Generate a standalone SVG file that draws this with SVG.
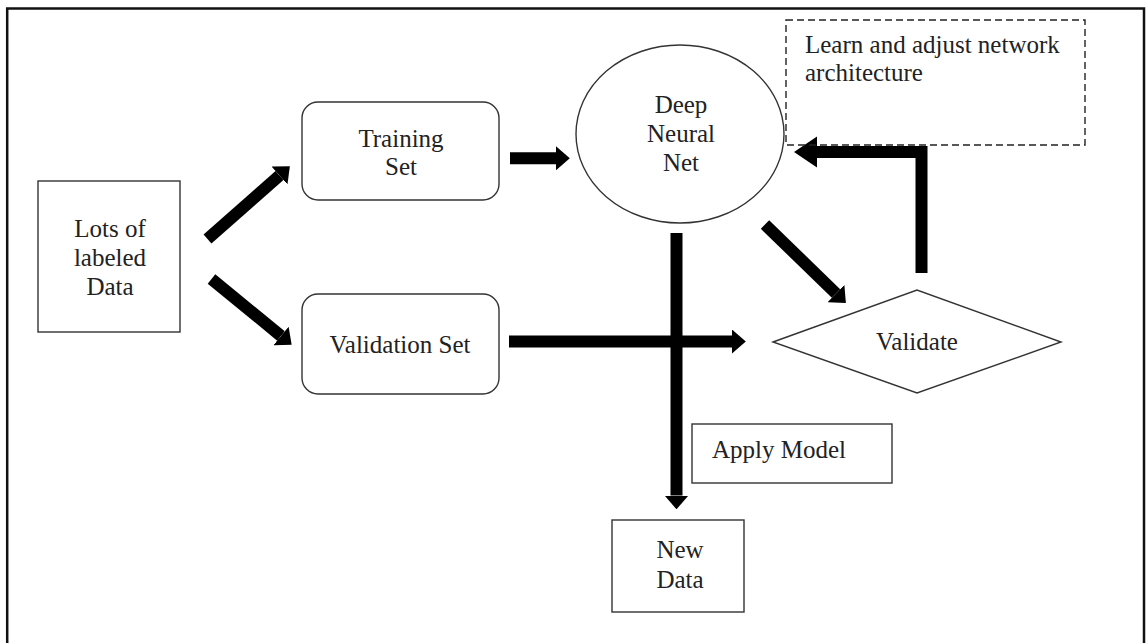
<svg xmlns="http://www.w3.org/2000/svg" width="1146" height="643" viewBox="0 0 1146 643">
  <style>
    .box { fill: #ffffff; stroke: #333333; stroke-width: 1.4; }
    .dash { fill: none; stroke: #222222; stroke-width: 1.4; stroke-dasharray: 7 4; }
    .lbl { font-family: "Liberation Serif", "Times New Roman", serif; font-size: 25px; fill: #222222; }
    .mid { text-anchor: middle; }
    .conn { fill: none; stroke: #000000; stroke-width: 12; stroke-linejoin: miter; stroke-linecap: butt; }
  </style>
  <defs>
    <marker id="ah" viewBox="0 0 10 10" refX="0" refY="5" markerWidth="1.15" markerHeight="2" orient="auto" markerUnits="strokeWidth" preserveAspectRatio="none">
      <path d="M0,0 L10,5 L0,10 z" fill="#000000"/>
    </marker>
    <marker id="ahBig" viewBox="0 0 10 10" refX="0" refY="5" markerWidth="1.92" markerHeight="2.6" orient="auto" markerUnits="strokeWidth" preserveAspectRatio="none">
      <path d="M0,0 L10,5 L0,10 z" fill="#000000"/>
    </marker>
  </defs>

  <rect id="frame" x="7.2" y="8.5" width="1136.8" height="645" fill="#ffffff" stroke="#111111" stroke-width="2.5"/>

  <g id="connectors">
    <path class="conn" d="M207.5,239 L279.5,175.5" marker-end="url(#ah)"/>
    <path class="conn" d="M211.5,279 L281,336" marker-end="url(#ah)"/>
    <path class="conn" d="M510,158.3 L556,158.3" stroke-width="13" marker-end="url(#ah)"/>
    <path class="conn" d="M509,341.5 L732,341.5" marker-end="url(#ah)"/>
    <path class="conn" d="M676.5,233 L676.5,495.5" marker-end="url(#ah)"/>
    <path class="conn" d="M765,224.5 L836,293.5" marker-end="url(#ah)"/>
    <path class="conn" d="M921.5,273 L921.5,152 L817,152" stroke-width="13" marker-end="url(#ahBig)"/>
  </g>

  <g id="lots">
    <rect class="box" x="38" y="181" width="142" height="151"/>
    <text class="lbl mid" x="110" y="237">Lots of</text>
    <text class="lbl mid" x="110" y="266">labeled</text>
    <text class="lbl mid" x="110" y="295">Data</text>
  </g>

  <g id="training">
    <rect class="box" x="302" y="102" width="197" height="98" rx="16" ry="16"/>
    <text class="lbl mid" x="401" y="147">Training</text>
    <text class="lbl mid" x="401" y="175">Set</text>
  </g>

  <g id="validation">
    <rect class="box" x="302" y="294" width="197" height="100" rx="16" ry="16"/>
    <text class="lbl mid" x="400" y="353">Validation Set</text>
  </g>

  <g id="dnn">
    <ellipse cx="680" cy="134" rx="104" ry="89" fill="none" stroke="#333333" stroke-width="1.4"/>
    <text class="lbl mid" x="681" y="113">Deep</text>
    <text class="lbl mid" x="681" y="142">Neural</text>
    <text class="lbl mid" x="681" y="171">Net</text>
  </g>

  <g id="learn">
    <rect class="dash" x="786" y="20" width="299" height="125"/>
    <text class="lbl" x="805" y="53">Learn and adjust network</text>
    <text class="lbl" x="805" y="81">architecture</text>
  </g>

  <g id="validate">
    <polygon class="box" points="773,342 917,290 1061,342 917,393"/>
    <text class="lbl mid" x="917" y="350">Validate</text>
  </g>

  <g id="apply">
    <rect class="box" x="692" y="424" width="200" height="59"/>
    <text class="lbl" x="712" y="458">Apply Model</text>
  </g>

  <g id="newdata">
    <rect class="box" x="612" y="520" width="132" height="92"/>
    <text class="lbl mid" x="680" y="558">New</text>
    <text class="lbl mid" x="680" y="588">Data</text>
  </g>
</svg>
